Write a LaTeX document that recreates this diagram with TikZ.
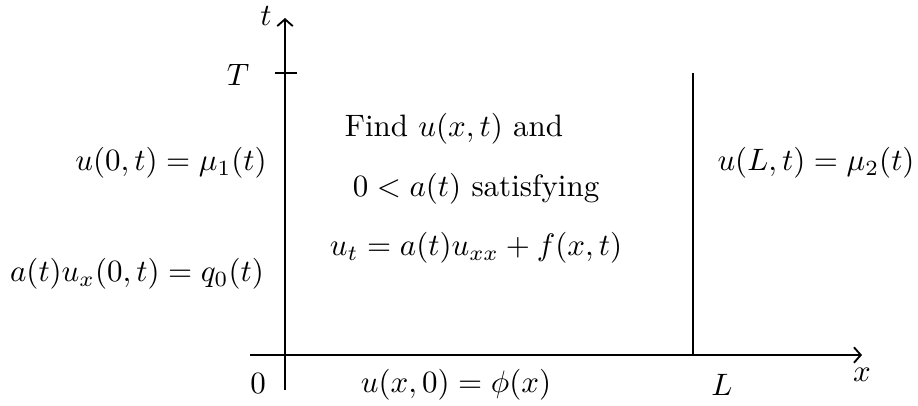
\documentclass[tikz,border=0pt]{standalone}
\usetikzlibrary{arrows.meta}
\begin{document}
\begin{tikzpicture}[x=0.3228pt,y=-0.3228pt,
  axis/.style={line width=0.6pt,-{Straight Barb[length=2.2pt,width=5pt]}},
  ln/.style={line width=0.6pt},
  lbl/.style={inner sep=0pt,anchor=center}]
\useasboundingbox (0,0) rectangle (918,405);
\coordinate (ys) at (285,390);
\coordinate (ye) at (285,18);
\coordinate (xs) at (250,355);
\coordinate (xe) at (862,355);
\draw[axis] (ys) -- (ye);
\draw[axis] (xs) -- (xe);
\coordinate (t1) at (275,73);
\coordinate (t2) at (297,73);
\draw[ln] (t1) -- (t2);
\coordinate (l1) at (693,73);
\coordinate (l2) at (693,355);
\draw[ln] (l1) -- (l2);
\node[lbl] (tl) at (266,16) {$t$};
\node[lbl] (Tl) at (238,75) {$T$};
\node[lbl] (xl) at (862,375) {$x$};
\node[lbl] (zl) at (258,383) {$0$};
\node[lbl] (Ll) at (722,385) {$L$};
\node[lbl] (f1) at (454,129) {Find $u(x,t)$ and};
\node[lbl] (f2) at (476,189) {$0<a(t)$ satisfying};
\node[lbl] (f3) at (476,248) {$u_t=a(t)u_{xx}+f(x,t)$};
\node[lbl] (b1) at (171,163) {$u(0,t)=\mu_1(t)$};
\node[lbl] (b2) at (137,274) {$a(t)u_x(0,t)=q_0(t)$};
\node[lbl] (b3) at (816,163) {$u(L,t)=\mu_2(t)$};
\node[lbl] (b4) at (456,385) {$u(x,0)=\phi(x)$};
\end{tikzpicture}
\end{document}
